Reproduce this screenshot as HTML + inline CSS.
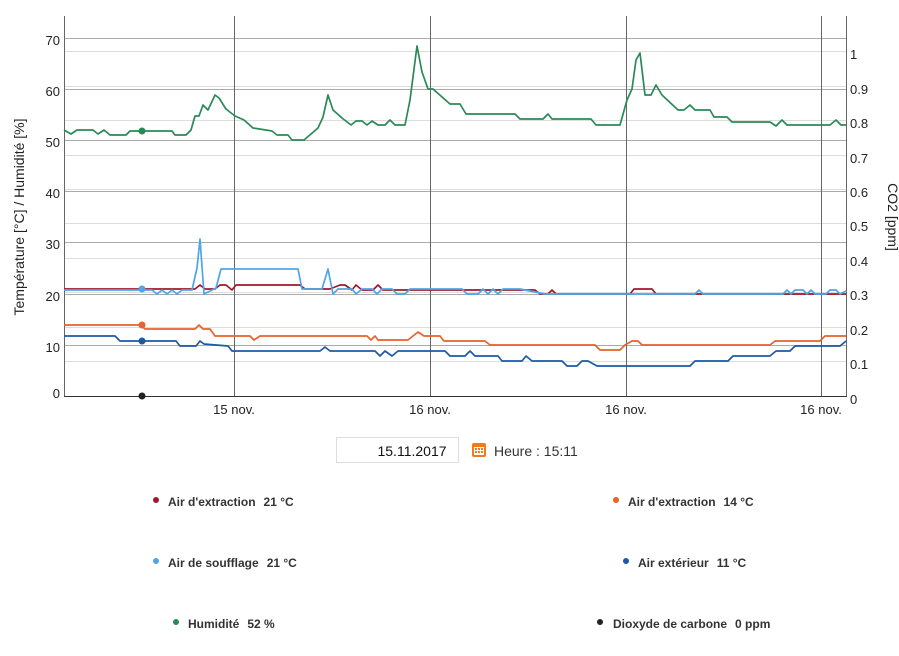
<!DOCTYPE html>
<html><head><meta charset="utf-8"><style>
body{margin:0;background:#fff;width:899px;height:651px;overflow:hidden;font-family:"Liberation Sans",sans-serif}
svg text{font-family:"Liberation Sans",sans-serif}
.lg text{white-space:pre}
</style></head><body>
<svg width="899" height="651" xmlns="http://www.w3.org/2000/svg">
<g stroke="#ddd" stroke-width="1">
<line x1="64" x2="846" y1="51.5" y2="51.5"/><line x1="64" x2="846" y1="86.5" y2="86.5"/><line x1="64" x2="846" y1="120.5" y2="120.5"/><line x1="64" x2="846" y1="155.5" y2="155.5"/><line x1="64" x2="846" y1="189.5" y2="189.5"/><line x1="64" x2="846" y1="223.5" y2="223.5"/><line x1="64" x2="846" y1="258.5" y2="258.5"/><line x1="64" x2="846" y1="292.5" y2="292.5"/><line x1="64" x2="846" y1="327.5" y2="327.5"/><line x1="64" x2="846" y1="361.5" y2="361.5"/>
</g>
<g stroke="#aaa" stroke-width="1">
<line x1="64" x2="846" y1="38.5" y2="38.5"/><line x1="64" x2="846" y1="89.5" y2="89.5"/><line x1="64" x2="846" y1="140.5" y2="140.5"/><line x1="64" x2="846" y1="191.5" y2="191.5"/><line x1="64" x2="846" y1="242.5" y2="242.5"/><line x1="64" x2="846" y1="294.5" y2="294.5"/><line x1="64" x2="846" y1="345.5" y2="345.5"/>
</g>
<g stroke="#666" stroke-width="1">
<line x1="234.5" x2="234.5" y1="16" y2="396"/><line x1="430.5" x2="430.5" y1="16" y2="396"/><line x1="626.5" x2="626.5" y1="16" y2="396"/><line x1="821.5" x2="821.5" y1="16" y2="396"/>
<line x1="64.5" x2="64.5" y1="16" y2="397"/><line x1="846.5" x2="846.5" y1="16" y2="397"/>
<line x1="64" x2="847" y1="396.5" y2="396.5" stroke="#333"/>
</g>
<g font-size="13" fill="#222">
<text x="60" y="45" text-anchor="end">70</text><text x="60" y="96" text-anchor="end">60</text><text x="60" y="147" text-anchor="end">50</text><text x="60" y="198" text-anchor="end">40</text><text x="60" y="249" text-anchor="end">30</text><text x="60" y="301" text-anchor="end">20</text><text x="60" y="352" text-anchor="end">10</text><text x="60" y="398" text-anchor="end">0</text>
<text x="850" y="59">1</text><text x="850" y="94">0.9</text><text x="850" y="128">0.8</text><text x="850" y="163">0.7</text><text x="850" y="197">0.6</text><text x="850" y="231">0.5</text><text x="850" y="266">0.4</text><text x="850" y="300">0.3</text><text x="850" y="335">0.2</text><text x="850" y="369">0.1</text><text x="850" y="404">0</text>
<text x="234" y="414" text-anchor="middle">15 nov.</text><text x="430" y="414" text-anchor="middle">16 nov.</text><text x="626" y="414" text-anchor="middle">16 nov.</text><text x="821" y="414" text-anchor="middle">16 nov.</text>
<text transform="translate(24,217) rotate(-90)" text-anchor="middle" font-size="14">Température [°C] / Humidité [%]</text>
<text transform="translate(888,217) rotate(90)" text-anchor="middle" font-size="14">CO2 [ppm]</text>
</g>
<g fill="none" stroke-width="1.7" stroke-linejoin="round">
<polyline stroke="#2a8a57" points="64,130 71,134 77,130 93,130 98,134 104,130 110,135 126,135 130,131 172,131 175,135 186,135 191,130 195,116 199,116 203,105 208,110 215,95 219,98 226,109 235,116 244,120 253,128 272,131 277,135 288,135 292,140 304,140 318,128 323,117 328,95 333,110 342,118 351,125 356,121 362,121 367,125 372,121 378,125 385,125 390,120 395,125 405,125 410,100 417,46 422,72 428,89 433,89 450,104 460,104 466,114 515,114 520,119 543,119 548,114 552,119 591,119 596,125 620,125 627,100 632,89 636,60 640,53 645,95 651,95 656,85 662,95 678,110 684,110 690,105 695,110 710,110 714,117 727,117 732,122 770,122 776,126 782,120 787,125 830,125 836,120 841,125 846,125"/>
<polyline stroke="#a0192b" points="64,289 195,289 200,285 205,289 215,289 220,285 226,285 232,290 236,285 300,285 305,289 330,289 340,285 345,285 352,290 356,285 362,290 373,290 378,285 383,290 535,290 540,294 548,294 552,290 556,294 630,294 634,289 652,289 656,294 846,294"/>
<polyline stroke="#4da6e8" points="64,290 152,290 157,294 162,290 167,294 172,290 177,294 182,290 192,290 197,268 200,239 204,294 210,291 216,288 221,269 298,269 302,289 322,289 328,269 333,294 338,289 352,289 356,294 362,289 372,289 377,294 382,289 392,289 397,294 405,294 410,289 462,289 467,294 478,294 483,289 488,294 493,289 498,294 503,289 520,289 545,294 695,294 699,290 703,294 783,294 787,290 791,294 795,290 803,290 807,294 811,290 815,294 826,294 830,290 836,290 840,294 846,291"/>
<polyline stroke="#e8622a" points="64,325 140,325 145,329 195,329 199,325 203,329 210,329 215,336 250,336 254,340 260,336 367,336 371,340 375,336 378,340 408,340 418,332 424,336 440,336 444,341 485,341 490,345 595,345 600,350 620,350 625,345 632,341 638,341 642,345 770,345 775,341 820,341 825,336 846,336"/>
<polyline stroke="#1d59a6" points="64,336 115,336 120,341 176,341 180,346 196,346 200,341 204,344 228,346 232,351 320,351 325,347 330,351 375,351 380,356 385,351 392,356 398,351 445,351 450,356 465,356 470,351 475,356 498,356 502,361 522,361 526,356 532,361 562,361 567,366 577,366 582,361 588,361 597,366 690,366 695,361 728,361 733,356 770,356 776,351 790,351 795,346 840,346 846,341"/>
</g>
<circle cx="142" cy="131" r="3.5" fill="#2a8a57"/>
<circle cx="142" cy="289" r="3.5" fill="#4da6e8"/>
<circle cx="142" cy="325" r="3.5" fill="#e8622a"/>
<circle cx="142" cy="341" r="3.5" fill="#1d59a6"/>
<circle cx="142" cy="396" r="3.5" fill="#222"/>
<rect x="336.5" y="437.5" width="122" height="25" fill="#fff" stroke="#ddd"/>
<text x="412" y="456" font-size="14" text-anchor="middle" fill="#111">15.11.2017</text>
<rect x="472" y="443" width="14" height="14" rx="2" fill="#f07a1e"/>
<rect x="474" y="447" width="10" height="8" fill="#fff"/>
<g fill="#f07a1e"><rect x="475" y="448" width="2" height="2"/><rect x="478" y="448" width="2" height="2"/><rect x="481" y="448" width="2" height="2"/><rect x="475" y="451" width="2" height="2"/><rect x="478" y="451" width="2" height="2"/><rect x="481" y="451" width="2" height="2"/></g>
<text x="494" y="456" font-size="14" fill="#333">Heure : 15:11</text>
<g class="lg" font-size="12" font-weight="bold" fill="#333">
<circle cx="156" cy="500" r="3" fill="#a0192b"/><text x="168" y="506">Air d'extraction<tspan dx="8">21 °C</tspan></text>
<circle cx="616" cy="500" r="3" fill="#e8622a"/><text x="628" y="506">Air d'extraction<tspan dx="8">14 °C</tspan></text>
<circle cx="156" cy="561" r="3" fill="#4da6e8"/><text x="168" y="567">Air de soufflage<tspan dx="8">21 °C</tspan></text>
<circle cx="626" cy="561" r="3" fill="#1d59a6"/><text x="638" y="567">Air extérieur<tspan dx="8">11 °C</tspan></text>
<circle cx="176" cy="622" r="3" fill="#2a8a57"/><text x="188" y="628">Humidité<tspan dx="8">52 %</tspan></text>
<circle cx="600" cy="622" r="3" fill="#222"/><text x="613" y="628">Dioxyde de carbone<tspan dx="8">0 ppm</tspan></text>
</g>
</svg>
</body></html>
